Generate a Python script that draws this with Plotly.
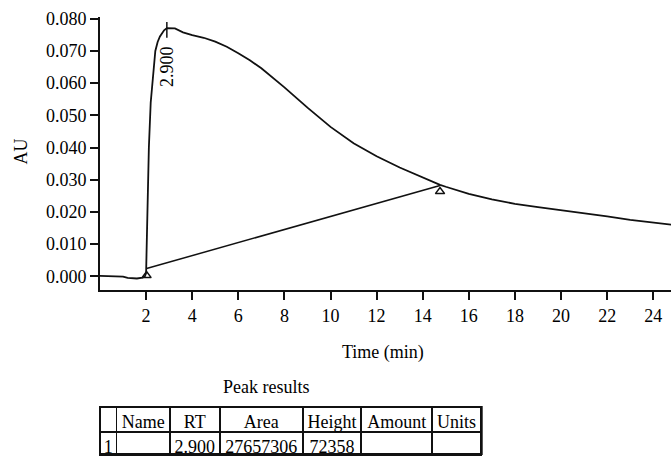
import plotly.graph_objects as go

# ---------------- data ----------------
time_min = [0, 0.5, 1.0, 1.2, 1.6, 1.85, 1.95, 2.0, 2.03, 2.07, 2.12, 2.2, 2.3, 2.4, 2.5, 2.6,
            2.78, 2.9, 3.25, 3.6, 4.0, 4.5, 5.0, 5.5, 6.0, 6.5, 7.0, 7.5, 8.0, 9.0, 10.0,
            11.0, 12.0, 13.0, 14.0, 14.75, 15.0, 16.0, 17.0, 18.0, 19.0, 20.0, 21.0, 22.0,
            23.0, 24.0, 24.8]
au = [0.0001, 0.0000, -0.0001, -0.0005, -0.0007, -0.0004, 0.0000, 0.0010, 0.0100, 0.0280,
      0.0400, 0.0540, 0.0620, 0.0700, 0.0728, 0.0745, 0.0764, 0.0771, 0.0770, 0.0758,
      0.0749, 0.0741, 0.0729, 0.0713, 0.0693, 0.0671, 0.0646, 0.0617, 0.0587, 0.0524,
      0.0464, 0.0413, 0.0373, 0.0338, 0.0306, 0.0284, 0.0278, 0.0256, 0.0239, 0.0225,
      0.0215, 0.0206, 0.0195, 0.0186, 0.0175, 0.0166, 0.0160]

baseline_t = [2.02, 14.75]
baseline_v = [0.0024, 0.0282]
marker_t = [2.02, 14.75]
marker_v = [0.0002, 0.0263]

peak_rt = 2.9
peak_tick_v = [0.0790, 0.0741]
peak_label_v = 0.0653
peak_label = "2.900"

x_ticks = [2, 4, 6, 8, 10, 12, 14, 16, 18, 20, 22, 24]
y_ticks = [0.000, 0.010, 0.020, 0.030, 0.040, 0.050, 0.060, 0.070, 0.080]

table_header = ["", "Name", "RT", "Area", "Height", "Amount", "Units"]
table_row = ["1", "", "2.900", "27657306", "72358", "", ""]
col_widths = [16.7, 53.3, 50, 83.3, 58.4, 71, 49]

# ---------------- figure ----------------
W, H = 671, 457
FONT = "Liberation Serif"
FS = 18
INK = "#111111"

fig = go.Figure()

fig.add_trace(go.Scatter(x=time_min, y=au, mode="lines",
                         line=dict(color=INK, width=1.8), showlegend=False,
                         hoverinfo="skip"))
fig.add_trace(go.Scatter(x=baseline_t, y=baseline_v, mode="lines",
                         line=dict(color=INK, width=1.5), showlegend=False,
                         hoverinfo="skip"))
fig.add_trace(go.Scatter(x=marker_t, y=marker_v, mode="markers",
                         marker=dict(symbol="triangle-up-open", size=8,
                                     color=INK, line=dict(width=1.5, color=INK)),
                         showlegend=False, hoverinfo="skip"))
fig.add_trace(go.Scatter(x=[peak_rt, peak_rt], y=peak_tick_v, mode="lines",
                         line=dict(color=INK, width=1.5), showlegend=False,
                         hoverinfo="skip"))

fig.add_annotation(x=peak_rt, y=peak_label_v, xref="x", yref="y", text=peak_label,
                   textangle=-90, showarrow=False, xanchor="center", yanchor="middle",
                   font=dict(family=FONT, size=FS, color="black"))

# table
tx0, tx1 = 100 / W, 481.7 / W
ty1 = (H - 406) / H
fig.add_trace(go.Table(
    domain=dict(x=[tx0, tx1], y=[0, ty1]),
    columnwidth=col_widths,
    header=dict(values=table_header, height=25, align="center",
                line=dict(color=INK, width=1.5), fill=dict(color="white"),
                font=dict(family=FONT, size=FS, color="black")),
    cells=dict(values=[[v] for v in table_row], height=23, align="center",
               line=dict(color=INK, width=1.5), fill=dict(color="white"),
               font=dict(family=FONT, size=FS, color="black")),
))

fig.add_shape(type="rect", xref="paper", yref="paper",
              x0=tx0, x1=tx1, y0=(H - 454) / H, y1=ty1,
              line=dict(color=INK, width=2))

fig.add_annotation(x=21 / W, y=(H - 146) / H, xref="paper", yref="paper", text="AU",
                   textangle=-90, showarrow=False, xanchor="center", yanchor="middle",
                   font=dict(family=FONT, size=FS, color="black"))
fig.add_annotation(x=383 / W, y=(H - 351) / H, xref="paper", yref="paper", text="Time (min)",
                   showarrow=False, xanchor="center", yanchor="middle",
                   font=dict(family=FONT, size=FS, color="black"))
fig.add_annotation(x=266 / W, y=(H - 386) / H, xref="paper", yref="paper", text="Peak results",
                   showarrow=False, xanchor="center", yanchor="middle",
                   font=dict(family=FONT, size=FS, color="black"))

fig.update_layout(
    width=W, height=H,
    margin=dict(l=0, r=0, t=0, b=0),
    paper_bgcolor="white", plot_bgcolor="white",
    font=dict(family=FONT, size=FS, color="black"),
    xaxis=dict(domain=[100 / W, 1.0], range=[0, 24.77], tickvals=x_ticks,
               ticktext=[str(v) for v in x_ticks],
               ticks="outside", ticklen=8, tickwidth=2, tickcolor=INK,
               showline=True, linewidth=2, linecolor=INK,
               showgrid=False, zeroline=False,
               tickfont=dict(family=FONT, size=FS, color="black")),
    yaxis=dict(domain=[(H - 287) / H, (H - 9) / H], range=[-0.00427, 0.0806],
               tickvals=y_ticks, ticktext=[f"{v:.3f}" for v in y_ticks],
               ticks="outside", ticklen=8, tickwidth=2, tickcolor=INK,
               showline=True, linewidth=2, linecolor=INK,
               showgrid=False, zeroline=False,
               tickfont=dict(family=FONT, size=FS, color="black")),
)

fig.write_html("out.html")
